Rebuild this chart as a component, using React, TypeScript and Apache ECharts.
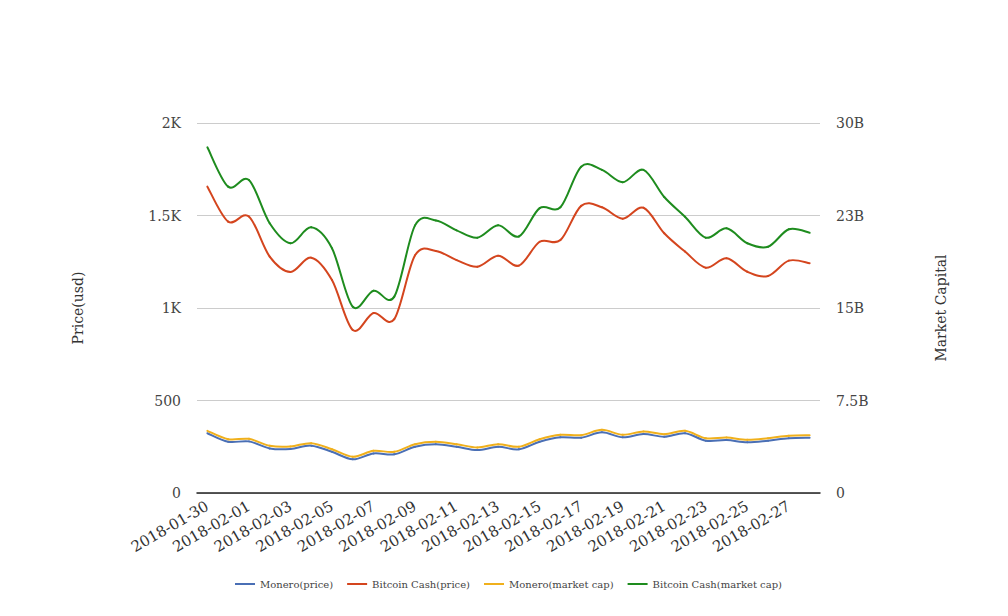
import React, { useEffect, useRef } from "react";
import * as echarts from "echarts";

const dates = [
  "2018-01-30", "2018-01-31", "2018-02-01", "2018-02-02", "2018-02-03", "2018-02-04",
  "2018-02-05", "2018-02-06", "2018-02-07", "2018-02-08", "2018-02-09", "2018-02-10",
  "2018-02-11", "2018-02-12", "2018-02-13", "2018-02-14", "2018-02-15", "2018-02-16",
  "2018-02-17", "2018-02-18", "2018-02-19", "2018-02-20", "2018-02-21", "2018-02-22",
  "2018-02-23", "2018-02-24", "2018-02-25", "2018-02-26", "2018-02-27", "2018-02-28",
];

const moneroPrice = [
  323, 277, 279, 241, 238, 256, 223, 182, 214, 209, 250, 263, 250, 232, 250,
  236, 277, 301, 299, 328, 301, 319, 304, 323, 283, 286, 274, 283, 296, 299,
];

const bchPrice = [
  1656, 1467, 1495, 1278, 1195, 1272, 1151, 881, 973, 940, 1285, 1308, 1259, 1223, 1283,
  1229, 1358, 1367, 1552, 1545, 1483, 1542, 1404, 1305, 1218, 1269, 1196, 1173, 1256, 1242,
];

// market caps in billions of USD
const moneroCapB = [
  5.04, 4.36, 4.39, 3.83, 3.77, 4.04, 3.55, 2.94, 3.42, 3.34, 3.96, 4.15, 3.96, 3.69, 3.96,
  3.75, 4.36, 4.72, 4.69, 5.12, 4.72, 4.99, 4.77, 5.04, 4.44, 4.5, 4.31, 4.44, 4.64, 4.69,
];

const bchCapB = [
  28.03, 24.84, 25.38, 21.87, 20.25, 21.54, 19.84, 15.1, 16.4, 15.92, 21.7, 22.1, 21.3, 20.7, 21.7,
  20.8, 23.1, 23.17, 26.46, 26.2, 25.2, 26.2, 24.0, 22.4, 20.7, 21.46, 20.25, 19.97, 21.38, 21.1,
];

const seriesNames = [
  "Monero(price)",
  "Bitcoin Cash(price)",
  "Monero(market cap)",
  "Bitcoin Cash(market cap)",
];
const colors = ["#4a6fb5", "#d4451e", "#f0b01c", "#1e8c1e"];

const FONT = "DejaVu Serif";

export default function App() {
  const ref = useRef<HTMLDivElement>(null);

  useEffect(() => {
    if (!ref.current) return;
    const chart = echarts.init(ref.current, undefined, { renderer: "svg" });
    const leftFmt = (v: number) => (v >= 1000 ? v / 1000 + "K" : String(v));
    const rightFmt = (v: number) =>
      v === 0 ? "0" : Number((v / 1e9).toPrecision(2)) + "B";

    // Catmull-Rom style smoothed line drawn through the axis scales
    const curve = (name: string, values: number[], yIdx: number, color: string, z: number) => ({
      name,
      type: "custom",
      coordinateSystem: "cartesian2d",
      yAxisIndex: yIdx,
      data: values.map((v, i) => [i, v]),
      encode: { x: 0, y: 1 },
      itemStyle: { color },
      z,
      silent: true,
      renderItem: (params: any, api: any) => {
        const n = values.length;
        const i = params.dataIndex;
        if (i >= n - 1) return null;
        const c = (k: number) => Math.max(0, Math.min(n - 1, k));
        const P = (k: number) => api.coord([c(k), values[c(k)]]);
        const p0 = P(i - 1), p1 = P(i), p2 = P(i + 1), p3 = P(i + 2);
        return {
          type: "bezierCurve",
          shape: {
            x1: p1[0], y1: p1[1],
            x2: p2[0], y2: p2[1],
            cpx1: p1[0] + (p2[0] - p0[0]) / 6,
            cpy1: p1[1] + (p2[1] - p0[1]) / 6,
            cpx2: p2[0] - (p3[0] - p1[0]) / 6,
            cpy2: p2[1] - (p3[1] - p1[1]) / 6,
          },
          style: { stroke: color, fill: null, lineWidth: 2, lineCap: "round" },
        };
      },
    });

    chart.setOption({
      animation: false,
      textStyle: { fontFamily: FONT },
      color: colors,
      grid: { left: 197, right: 188, top: 123, bottom: 123, containLabel: false },
      legend: {
        bottom: 22,
        left: 230,
        icon: "path://M0,0 L20,0 L20,2 L0,2 Z",
        itemWidth: 20,
        itemHeight: 2,
        itemGap: 14,
        textStyle: { fontSize: 10, color: "#444", fontFamily: FONT },
        data: seriesNames,
      },
      xAxis: {
        type: "category",
        data: dates,
        boundaryGap: true,
        axisLine: { lineStyle: { color: "#222", width: 1.5 } },
        axisTick: { show: false },
        axisLabel: {
          interval: 1,
          rotate: 30,
          color: "#333",
          fontSize: 15,
          fontFamily: FONT,
          margin: 12,
        },
      },
      yAxis: [
        {
          type: "value",
          min: 0,
          max: 2000,
          interval: 500,
          name: "Price(usd)",
          nameLocation: "middle",
          nameGap: 112,
          nameTextStyle: { fontSize: 14, color: "#333", fontFamily: FONT },
          axisLine: { show: false },
          axisTick: { show: false },
          axisLabel: { formatter: leftFmt, color: "#444", fontSize: 14, margin: 16, fontFamily: FONT },
          splitLine: { lineStyle: { color: "#cccccc" } },
        },
        {
          type: "value",
          min: 0,
          max: 30e9,
          interval: 7.5e9,
          name: "Market Capital",
          nameLocation: "middle",
          nameGap: 114,
          nameTextStyle: { fontSize: 14, color: "#333", fontFamily: FONT },
          axisLine: { show: false },
          axisTick: { show: false },
          axisLabel: { formatter: rightFmt, color: "#444", fontSize: 14, margin: 16, fontFamily: FONT },
          splitLine: { show: false },
        },
      ],
      series: [
        curve(seriesNames[0], moneroPrice, 0, colors[0], 2),
        curve(seriesNames[1], bchPrice, 0, colors[1], 2),
        curve(seriesNames[2], moneroCapB.map((v) => v * 1e9), 1, colors[2], 3),
        curve(seriesNames[3], bchCapB.map((v) => v * 1e9), 1, colors[3], 3),
      ],
    });
    return () => chart.dispose();
  }, []);

  return <div ref={ref} style={{ width: 1008, height: 616, margin: -8 }} />;
}
